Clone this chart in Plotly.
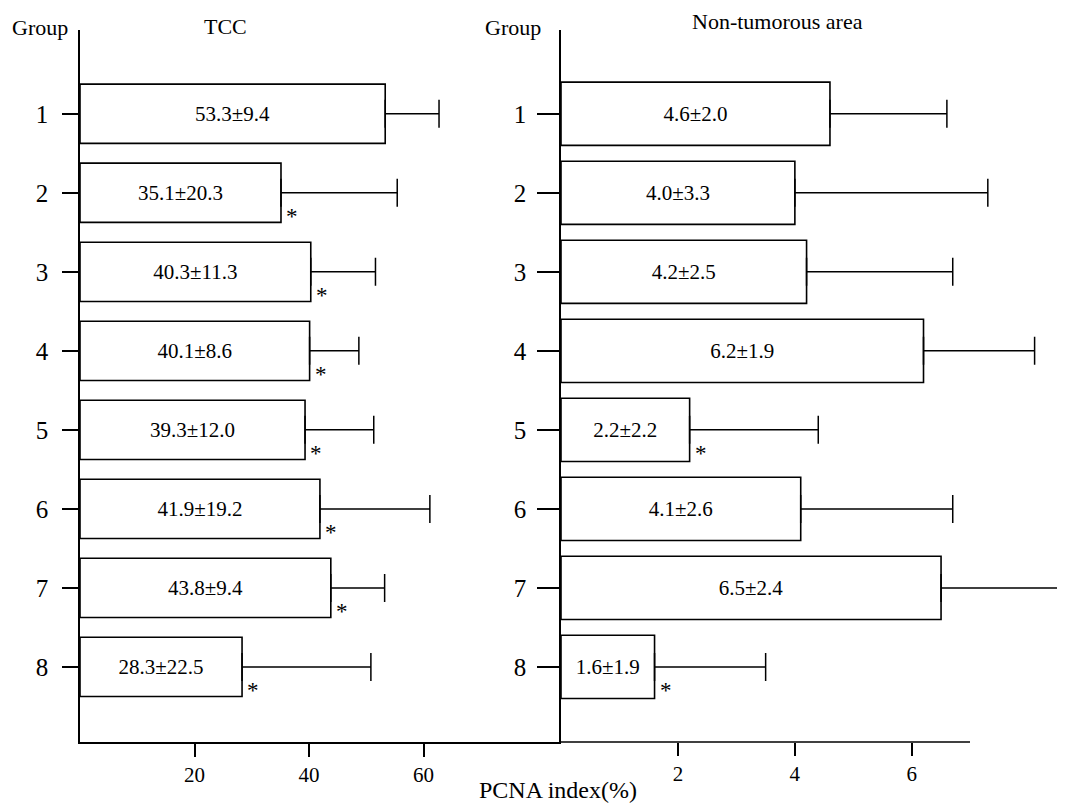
import plotly.graph_objects as go

# ---- data ----
groups = [1, 2, 3, 4, 5, 6, 7, 8]
tcc_mean = [53.3, 35.1, 40.3, 40.1, 39.3, 41.9, 43.8, 28.3]
tcc_sd = [9.4, 20.3, 11.3, 8.6, 12.0, 19.2, 9.4, 22.5]
tcc_sig = [False, True, True, True, True, True, True, True]
non_mean = [4.6, 4.0, 4.2, 6.2, 2.2, 4.1, 6.5, 1.6]
non_sd = [2.0, 3.3, 2.5, 1.9, 2.2, 2.6, 2.4, 1.9]
non_sig = [False, False, False, False, True, False, False, True]
tcc_ticks = [20, 40, 60]
non_ticks = [2, 4, 6]

FONT = "Liberation Serif"
OFF = 8  # default page body margin
W, H = 1065 - OFF, 805 - OFF
ML, MR, MT, MB = 80 - OFF, 0, 30 - OFF, 63
PW, PH = W - ML - MR, H - MT - MB


def px(x):
    """screen pixel x -> paper"""
    return (x - OFF - ML) / PW


def py(y):
    """screen pixel y -> paper"""
    return (H - MB - (y - OFF)) / PH


split = px(561)

fig = go.Figure()

fig.add_trace(go.Bar(
    x=tcc_mean, y=groups, orientation="h",
    marker=dict(color="white", line=dict(color="black", width=1.6)),
    width=0.75,
    text=[f"{m:.1f}±{s:.1f}" for m, s in zip(tcc_mean, tcc_sd)],
    textposition="inside", insidetextanchor="middle", textangle=0,
    textfont=dict(family=FONT, size=21, color="black"),
    error_x=dict(type="data", array=tcc_sd, arrayminus=[0] * len(tcc_sd),
                 symmetric=False, color="black", thickness=1.5, width=14),
    xaxis="x", yaxis="y", showlegend=False,
))

fig.add_trace(go.Bar(
    x=non_mean, y=groups, orientation="h",
    marker=dict(color="white", line=dict(color="black", width=1.6)),
    width=0.8,
    text=[f"{m:.1f}±{s:.1f}" for m, s in zip(non_mean, non_sd)],
    textposition="inside", insidetextanchor="middle", textangle=0,
    textfont=dict(family=FONT, size=21, color="black"),
    error_x=dict(type="data", array=non_sd, arrayminus=[0] * len(non_sd),
                 symmetric=False, color="black", thickness=1.5, width=14),
    xaxis="x2", yaxis="y2", showlegend=False,
))

yrange = [8.95, -0.06]
common_y = dict(
    range=yrange, tickvals=groups, ticktext=[str(g) for g in groups],
    showline=True, linecolor="black", linewidth=1.6,
    ticks="outside", tickcolor="black", tickwidth=1.6,
    tickfont=dict(family=FONT, size=25, color="black"),
    showgrid=False, zeroline=False, automargin=False,
)

fig.update_layout(
    width=W, height=H,
    margin=dict(l=ML, r=MR, t=MT, b=MB),
    paper_bgcolor="white", plot_bgcolor="white",
    font=dict(family=FONT, color="black"),
    xaxis=dict(domain=[0, split], range=[0, 84.0], tickvals=tcc_ticks,
               showline=True, linecolor="black", linewidth=1.6,
               ticks="outside", ticklen=13, tickwidth=1.6, tickcolor="black",
               tickfont=dict(family=FONT, size=21, color="black"),
               showgrid=False, zeroline=False, anchor="y", automargin=False),
    yaxis=dict(domain=[0, 1], anchor="x", ticklen=16, ticklabelstandoff=9,
               **common_y),
    xaxis2=dict(domain=[split, 1], range=[0, 8.62], tickvals=non_ticks,
                showline=False,
                ticks="outside", ticklen=13, tickwidth=1.6, tickcolor="black",
                tickfont=dict(family=FONT, size=21, color="black"),
                showgrid=False, zeroline=False, anchor="y2", automargin=False),
    yaxis2=dict(domain=[0, 1], anchor="x2", ticklen=22, ticklabelstandoff=6,
                **common_y),
    bargap=0.2,
)

# bottom axis line of right panel (stops before plot edge as in reference)
fig.add_shape(type="line", xref="x2 domain", yref="paper",
              x0=0, x1=(970 - 561) / (1065 - 561), y0=0, y1=0,
              line=dict(color="black", width=1.6))

# significance asterisks
for g, m, s in zip(groups, tcc_mean, tcc_sig):
    if s:
        fig.add_annotation(x=m, y=g + 0.3, xref="x", yref="y", text="*",
                           showarrow=False, xanchor="left", xshift=3,
                           font=dict(family=FONT, size=23, color="black"))
for g, m, s in zip(groups, non_mean, non_sig):
    if s:
        fig.add_annotation(x=m, y=g + 0.3, xref="x2", yref="y2", text="*",
                           showarrow=False, xanchor="left", xshift=3,
                           font=dict(family=FONT, size=23, color="black"))

# titles / labels (positions given in screen pixels)
labels = [
    ("Group", 40, 27, 22),
    ("TCC", 225, 26, 22),
    ("Group", 513, 27, 22),
    ("Non-tumorous area", 777, 22, 22),
    ("PCNA index(%)", 558, 790, 24),
]
for t, x, y, s in labels:
    fig.add_annotation(x=px(x), y=py(y), xref="paper", yref="paper", text=t,
                       showarrow=False, xanchor="center", yanchor="middle",
                       font=dict(family=FONT, size=s, color="black"))

fig.write_html("out.html")
